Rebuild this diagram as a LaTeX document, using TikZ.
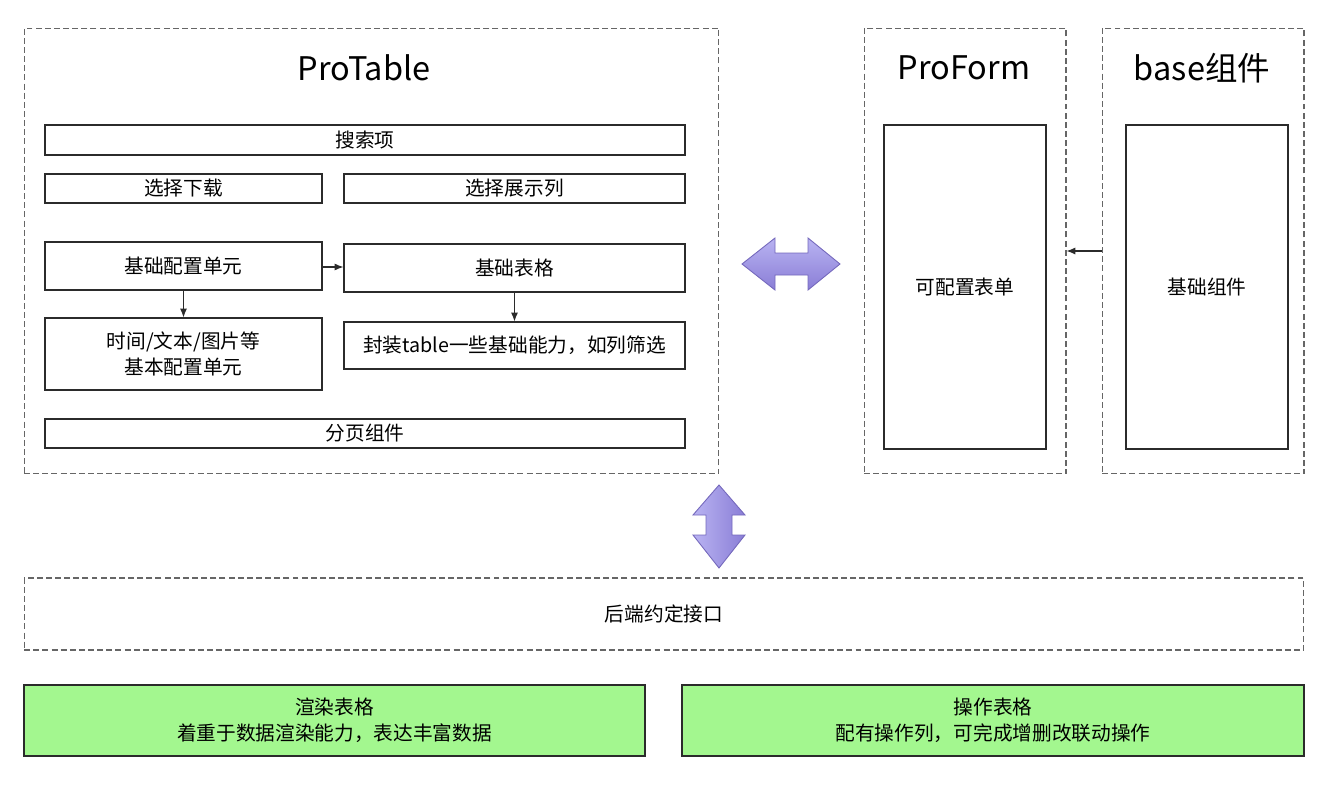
\documentclass[tikz,border=0pt]{standalone}
\usepackage{fontspec}
\setmainfont{Noto Sans CJK SC}
\usetikzlibrary{positioning,arrows.meta}
\definecolor{edge}{HTML}{2B2B2B}
\definecolor{frame}{HTML}{666666}
\definecolor{mint}{HTML}{A3F78F}
\definecolor{lilac}{HTML}{B9B3F2}
\definecolor{violet}{HTML}{8A7ED6}
\definecolor{violetline}{HTML}{7468BC}

\begin{document}
\begin{tikzpicture}[x=0.02cm,y=-0.02cm,font=\fontsize{11.2}{14.8}\selectfont,
    box/.style={draw=edge,line width=0.7pt,inner sep=2pt,align=center},
    group/.style={draw=frame,line width=0.6pt,dash pattern=on 3.4pt off 1.8pt,inner sep=0pt},
    title/.style={font=\fontsize{18.5}{22}\selectfont},
    flow/.style={-{Latex[length=5pt,width=4pt]},edge,line width=0.6pt},
    twoway/.style={draw=violetline,line width=0.5pt}]
  \useasboundingbox (0,0) rectangle (1336,788);
  % ProTable
  \node[group,minimum width=13.9cm,minimum height=8.92cm] (ptbl) at (371.5,251) {};
  \node[title] (ptblt) at (364,68) {ProTable};
  \node[box,minimum width=12.8cm,minimum height=0.6cm] (search) at (365,140) {搜索项};
  \node[box,minimum width=5.54cm,minimum height=0.58cm] (dl) at (183.5,188.5) {选择下载};
  \node[box,minimum width=6.82cm,minimum height=0.58cm] (cols) at (514.5,188.5) {选择展示列};
  \node[box,minimum width=5.54cm,minimum height=0.96cm] (unit) at (183.5,266) {基础配置单元};
  \node[box,minimum width=6.82cm,minimum height=0.96cm] (tbl) at (514.5,268) {基础表格};
  \node[box,minimum width=5.54cm,minimum height=1.44cm] (basic) at (183.5,354) {时间/文本/图片等\\基本配置单元};
  \node[box,minimum width=6.82cm,minimum height=0.94cm] (wrap) at (514.5,345.5) {封装table一些基础能力，如列筛选};
  \node[box,minimum width=12.8cm,minimum height=0.58cm] (page) at (365,433.5) {分页组件};
  \draw[flow] (unit.east |- 0,267) -- (tbl.west |- 0,267);
  \draw[flow] (unit) -- (basic);
  \draw[flow] (tbl) -- (wrap);
  % ProForm and base
  \node[group,minimum width=4.04cm,minimum height=8.92cm] (pform) at (965,251) {};
  \node[title] (pformt) at (964,68) {ProForm};
  \node[box,minimum width=3.24cm,minimum height=6.48cm] (form) at (965,287) {可配置表单};
  \node[group,minimum width=4.04cm,minimum height=8.92cm] (base) at (1203,251) {};
  \node[title] (baset) at (1202,68) {base组件};
  \node[box,minimum width=3.24cm,minimum height=6.48cm] (comp) at (1207,287) {基础组件};
  \draw[flow] (base) -- (pform);
  % two-way arrows
  \draw[twoway,top color=lilac,bottom color=violet] (742,264) -- (775,238) -- (775,253) -- (808,253)
    -- (808,238) -- (840,264) -- (808,290) -- (808,275) -- (775,275) -- (775,290) -- cycle;
  \draw[twoway,left color=lilac,right color=violet] (719,485) -- (745,515) -- (732,515) -- (732,535)
    -- (745,535) -- (719,568) -- (693,535) -- (706,535) -- (706,515) -- (693,515) -- cycle;
  % backend and notes
  \node[group,minimum width=25.6cm,minimum height=1.44cm] (api) at (664,614) {后端约定接口};
  \node[box,fill=mint,minimum width=12.42cm,minimum height=1.42cm] (render) at (334.5,720.5) {渲染表格\\着重于数据渲染能力，表达丰富数据};
  \node[box,fill=mint,minimum width=12.44cm,minimum height=1.42cm] (ops) at (993,720.5) {操作表格\\配有操作列，可完成增删改联动操作};
\end{tikzpicture}
\end{document}
